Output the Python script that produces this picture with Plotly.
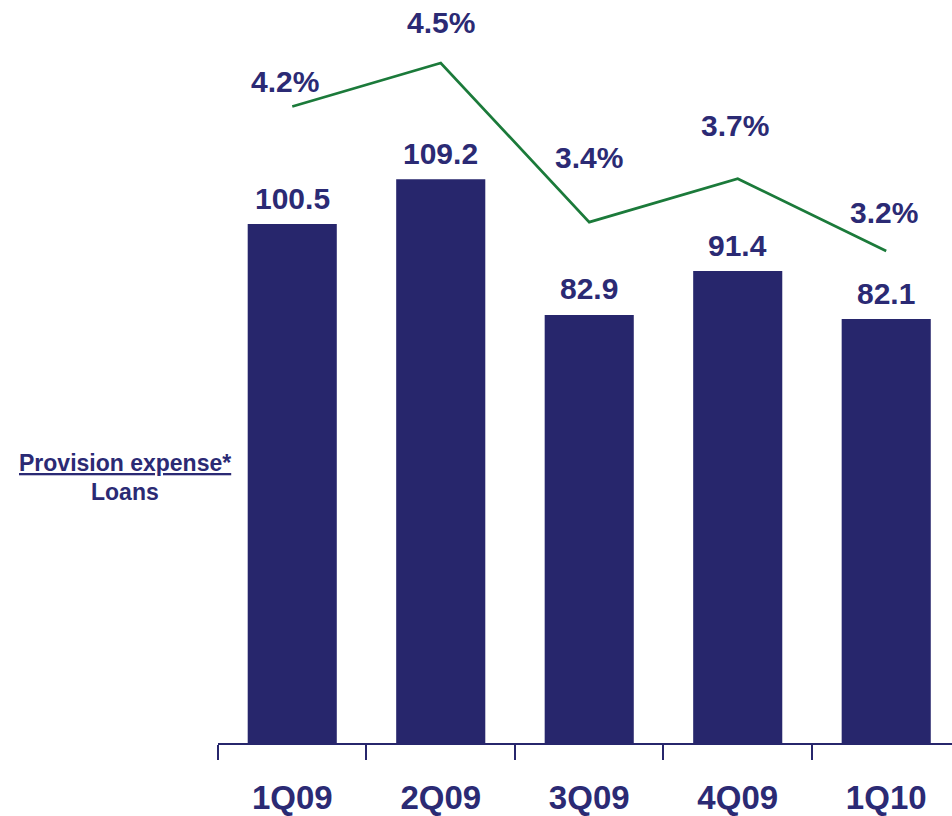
import plotly.graph_objects as go

# Quarterly provision expense and provision-to-loans ratio
quarters = ["1Q09", "2Q09", "3Q09", "4Q09", "1Q10"]
provision_expense = [100.5, 109.2, 82.9, 91.4, 82.1]
provision_ratio_pct = [4.2, 4.5, 3.4, 3.7, 3.2]

NAVY = "#27266C"
TEXT = "#2B2A74"
GREEN = "#1B7A3A"
FONT = "Liberation Sans, Arial, sans-serif"

fig = go.Figure()

fig.add_trace(go.Bar(
    x=quarters, y=provision_expense,
    marker=dict(color=NAVY, line=dict(width=0)),
    yaxis="y", showlegend=False, hoverinfo="skip",
))

fig.add_trace(go.Scatter(
    x=quarters, y=provision_ratio_pct,
    mode="lines", line=dict(color=GREEN, width=2.7),
    yaxis="y2", showlegend=False, hoverinfo="skip",
))

annotations = []

# value labels above each bar
for q, v in zip(quarters, provision_expense):
    annotations.append(dict(
        x=q, y=v, xref="x", yref="y", text=f"<b>{v:.1f}</b>",
        showarrow=False, yanchor="middle", yshift=26,
        font=dict(family=FONT, size=30, color=TEXT),
    ))

# ratio labels above the line, each lifted clear of the bar labels
pct_shift_y = [25, 41, 65, 53, 39]
pct_shift_x = [-7, 0, 0, -3, -2]
for q, v, dy, dx in zip(quarters, provision_ratio_pct, pct_shift_y, pct_shift_x):
    annotations.append(dict(
        x=q, y=v, xref="x", yref="y2", text=f"<b>{v:.1f}%</b>",
        showarrow=False, yanchor="middle", yshift=dy, xshift=dx,
        font=dict(family=FONT, size=30, color=TEXT),
    ))

# ratio legend written as a fraction
annotations.append(dict(
    x=125, y=816 - 463, xref="paper", yref="paper", text="<b>Provision expense*</b>",
    showarrow=False, xanchor="center", yanchor="middle",
    font=dict(family=FONT, size=23, color=TEXT, lineposition="under"),
))
annotations.append(dict(
    x=125, y=816 - 492, xref="paper", yref="paper", text="<b>Loans</b>",
    showarrow=False, xanchor="center", yanchor="middle",
    font=dict(family=FONT, size=23, color=TEXT),
))

fig.update_layout(
    width=952, height=816,
    margin=dict(l=218, r=0, t=0, b=73),
    paper_bgcolor="white", plot_bgcolor="white",
    bargap=0.4,
    xaxis=dict(
        type="category", range=[-0.5, 4.443],
        showline=True, linecolor=NAVY, linewidth=1.5,
        ticks="outside", tickson="boundaries", ticklen=15,
        tickcolor=NAVY, tickwidth=1.5,
        showgrid=False, zeroline=False,
        tickfont=dict(family=FONT, size=33, color=TEXT, weight="bold"),
        ticklabelstandoff=25,
    ),
    yaxis=dict(range=[0, 143.9], visible=False, showgrid=False, zeroline=False),
    yaxis2=dict(range=[-0.202, 4.936], overlaying="y", visible=False,
                showgrid=False, zeroline=False),
    annotations=annotations,
)

# annotations given in pixels above are converted to paper coordinates
for a in fig.layout.annotations:
    if a.xref == "paper":
        a.x = (a.x - 218) / (952 - 218)
        a.y = (a.y - 73) / (816 - 73)

fig.write_html("out.html")
